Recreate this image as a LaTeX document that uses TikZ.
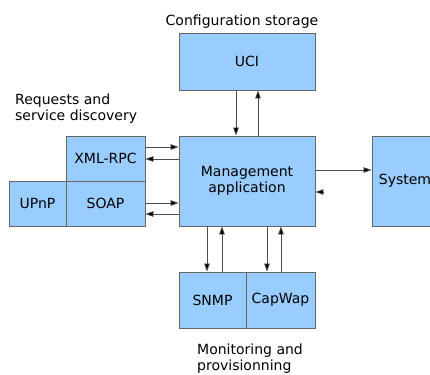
\documentclass[tikz,border=0pt]{standalone}
\usepackage{fontspec}
\setmainfont{DejaVu Sans}
\usepackage{tikz}
\usetikzlibrary{arrows.meta}
\definecolor{boxblue}{HTML}{99CCFF}
\definecolor{boxline}{HTML}{666666}
\tikzset{>/.tip={Triangle[length=8pt,width=5.5pt,fill=black]},
  block/.style={draw=boxline, fill=boxblue, line width=0.9pt, inner sep=0pt, align=center},
  caption/.style={inner sep=0pt, align=left},
  link/.style={->, color=black!70, line width=0.7pt}}

\begin{document}
\begin{tikzpicture}[x=1pt, y=-1pt, font=\fontsize{14}{16}\selectfont]
\clip (0,0) rectangle (430,374);
\useasboundingbox (0,0) rectangle (430,374);
\node[block, minimum width=136pt, minimum height=57pt] (uci) at (247,61.5) {UCI};
\node[block, minimum width=136pt, minimum height=90pt] (mgmt) at (247,181) {Management\\application};
\node[block, minimum width=66pt, minimum height=90pt] (system) at (405,181) {System};

\node[block, minimum width=79pt, minimum height=45pt] (xmlrpc) at (105.5,158.5) {XML-RPC};
\node[block, minimum width=79pt, minimum height=45pt] (soap) at (105.5,203.5) {SOAP};
\node[block, minimum width=57pt, minimum height=45pt] (upnp) at (37.5,203.5) {UPnP};

\node[block, minimum width=67pt, minimum height=56pt] (snmp) at (212.5,300) {SNMP};
\node[block, minimum width=69pt, minimum height=56pt] (capwap) at (280.5,300) {CapWap};

\node[caption] (cfg-label) at (242,22) {Configuration storage};
\node[caption, anchor=west] (req-label) at (15,109) {Requests and\\service discovery};
\node[caption, anchor=west] (mon-label) at (197,359) {Monitoring and\\provisionning};

\coordinate (sys-ret) at (324,192);

\path[link] ([xshift=-11pt]uci.south) edge ([xshift=-11pt]mgmt.north);
\path[link] ([xshift=11pt]mgmt.north) edge ([xshift=11pt]uci.south);
\path[link] ([yshift=11.5pt]xmlrpc.east) edge ([yshift=34pt]mgmt.west);
\path[link] ([yshift=22pt]mgmt.west) edge ([yshift=-0.5pt]xmlrpc.east);
\path[link] ([yshift=0.5pt]soap.east) edge ([yshift=-22pt]mgmt.west);
\path[link] ([yshift=-33pt]mgmt.west) edge ([yshift=-10.5pt]soap.east);
\path[link] ([yshift=11pt]mgmt.east) edge ([yshift=11pt]system.west);
\path[link] (sys-ret) edge ([yshift=-11pt]mgmt.east);
\path[link] ([xshift=-40pt]mgmt.south) edge ([xshift=-5.5pt]snmp.north);
\path[link] ([xshift=9.5pt]snmp.north) edge ([xshift=-25pt]mgmt.south);
\path[link] ([xshift=20pt]mgmt.south) edge ([xshift=-13.5pt]capwap.north);
\path[link] ([xshift=0.5pt]capwap.north) edge ([xshift=34pt]mgmt.south);
\end{tikzpicture}
\end{document}
